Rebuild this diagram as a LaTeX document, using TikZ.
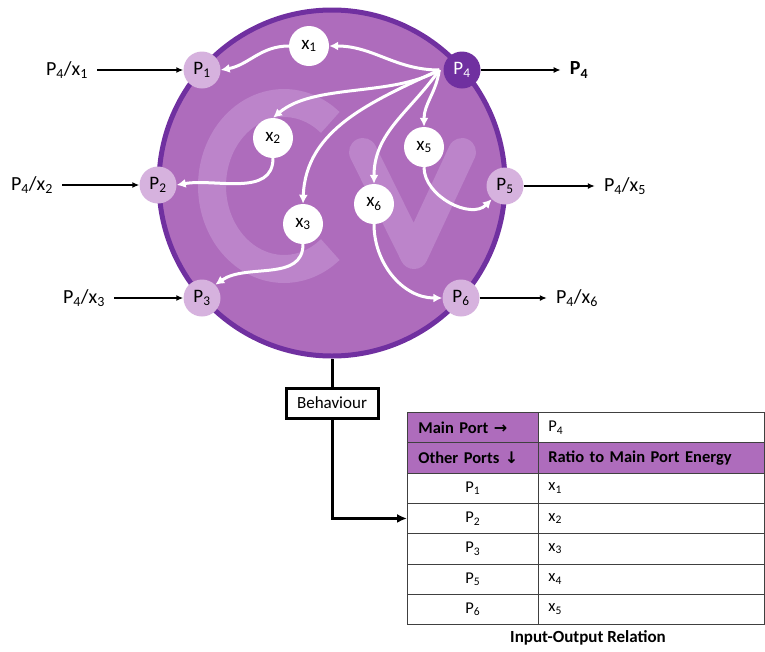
\documentclass[tikz,border=0pt]{standalone}
\usepackage{fontspec}
\setmainfont{Carlito}
\newfontfamily\symfont{DejaVu Sans}
\usetikzlibrary{arrows.meta}
\definecolor{cvfill}{RGB}{174,108,188}
\definecolor{cvrim}{RGB}{112,48,160}
\definecolor{cvport}{RGB}{214,178,222}
\definecolor{cvmark}{RGB}{188,132,202}
\newcommand{\port}[1]{P\textsubscript{#1}}
\newcommand{\ratio}[1]{x\textsubscript{#1}}
\tikzset{
  body/.style={circle, draw=cvrim, fill=cvfill, line width=5pt, minimum size=346pt, inner sep=0pt},
  wmark/.style={draw=cvmark, line width=28pt},
  port/.style={circle, fill=cvport, minimum size=37pt, inner sep=0pt, font=\fontsize{19}{19}\selectfont},
  mainport/.style={port, fill=cvrim, text=white},
  share/.style={circle, fill=white, minimum size=40pt, inner sep=0pt, font=\fontsize{19}{19}\selectfont},
  flow/.style={-{Latex[length=9pt,width=9pt]}, white, line width=3pt},
  lbl/.style={inner xsep=9pt, font=\fontsize{20}{24}\selectfont},
  io/.style={-{Latex[length=7pt,width=6pt]}, line width=1.4pt},
  behav/.style={draw, line width=3pt, minimum width=92pt, minimum height=30pt, inner sep=0pt, font=\fontsize{17}{20}\selectfont},
  wire/.style={line width=3pt},
  cell/.style={draw=black!75, line width=0.8pt, anchor=north west, minimum height=30.3pt, inner ysep=0pt, font=\fontsize{16.5}{19}\selectfont},
  lcell/.style={cell, text width=109pt, inner xsep=11pt, align=center},
  rcell/.style={cell, text width=206pt, inner xsep=10pt, align=left},
  head/.style={fill=cvfill, font=\bfseries\fontsize{16.5}{19}\selectfont}
}
\begin{document}
\begin{tikzpicture}[x=1pt, y=-1pt]
  \useasboundingbox (0,0) rectangle (765,651);
  % valve body with the Cv mark
  \node[body] (cv) at (332,183) {};
  \draw[wmark] plot[smooth, domain=50:310, samples=40] ({284+72*cos(\x)}, {186+83*sin(\x)});
  \draw[wmark, line cap=round, line join=round] (363,152) -- (414,255) -- (462,152);
  % ports
  \node[port] (P1) at (202,70) {\port{1}};
  \node[port] (P2) at (158,185) {\port{2}};
  \node[port] (P3) at (202,298) {\port{3}};
  \node[mainport] (P4) at (462,70) {\port{4}};
  \node[port] (P5) at (505,186) {\port{5}};
  \node[port] (P6) at (461,298) {\port{6}};
  % shares
  \node[share] (x1) at (309,46) {\ratio{1}};
  \node[share] (x2) at (273,138) {\ratio{2}};
  \node[share] (x3) at (303,224) {\ratio{3}};
  \node[share] (x5) at (424,147) {\ratio{5}};
  \node[share] (x6) at (374,204) {\ratio{6}};
  \coordinate (fan) at ([xshift=-4pt]P4.west);
  \draw[flow] (fan) to[out=180,in=0] (x1.east);
  \draw[flow] (x1.west) to[out=180,in=10] (P1.east);
  \draw[flow] (fan) to[out=210,in=40,looseness=0.8] (x2.north);
  \draw[flow] (x2.south) to[out=-90,in=10] (P2.east);
  \draw[flow] (fan) to[out=205,in=88] (x3.north);
  \draw[flow] (x3.south) to[out=-90,in=35] (P3.north east);
  \draw[flow] (fan) to[out=235,in=90] (x6.north);
  \draw[flow] (x6.south) to[out=-90,in=180] (P6.west);
  \draw[flow] (fan) to[out=262,in=90] (x5.north);
  \draw[flow] (x5.south) to[out=-90,in=225] (P5.south west);
  % inputs and outputs
  \node[lbl] (in1) at (67,70) {\port{4}/\ratio{1}};
  \node[lbl] (in2) at (32,185) {\port{4}/\ratio{2}};
  \node[lbl] (in3) at (84,298) {\port{4}/\ratio{3}};
  \node[lbl, font=\bfseries\fontsize{20}{24}\selectfont] (out4) at (579,70) {\port{4}};
  \node[lbl] (out5) at (625,186) {\port{4}/\ratio{5}};
  \node[lbl] (out6) at (577,298) {\port{4}/\ratio{6}};
  \draw[io] (in1.east) -- (P1.west);
  \draw[io] (in2.east) -- (P2.west);
  \draw[io] (in3.east) -- (P3.west);
  \draw[io] (P4.east) -- (out4.west);
  \draw[io] (P5.east) -- (out5.west);
  \draw[io] (P6.east) -- (out6.west);
  % behaviour table
  \node[behav] (beh) at (332,403) {Behaviour};
  \node[lcell, head, align=left] (mainl) at (407,412) {Main Port {\symfont\bfseries\fontsize{16}{19}\selectfont →}};
  \node[rcell] (mainr) at (538,412) {\port{4}};
  \node[lcell, head, align=left] (otherl) at (407,442.3) {Other Ports {\symfont\bfseries\fontsize{16}{19}\selectfont ↓}};
  \node[rcell, head] (otherr) at (538,442.3) {Ratio to Main Port Energy};
  \foreach \p/\x [count=\i] in {1/1,2/2,3/3,5/4,6/5} {
    \node[lcell] (lo\i) at (407,{442.3+30.3*\i}) {\port{\p}};
    \node[rcell] (ro\i) at (538,{442.3+30.3*\i}) {\ratio{\x}};
  }
  \node[font=\bfseries\fontsize{17}{20}\selectfont] (cap) at (588,638) {Input-Output Relation};
  \draw[wire] (cv.south) -- (beh.north);
  \draw[wire, -{Latex[length=10pt,width=9pt]}] (beh.south) |- (lo2.west);
\end{tikzpicture}
\end{document}
